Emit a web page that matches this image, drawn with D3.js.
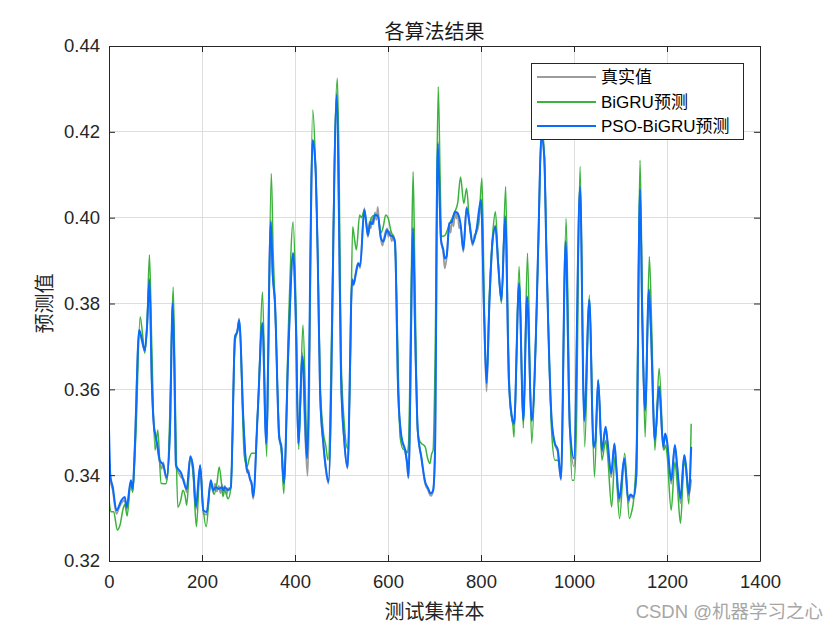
<!DOCTYPE html>
<html>
<head>
<meta charset="utf-8">
<script src="https://cdn.jsdelivr.net/npm/d3@7"></script>
<style>
  html, body { margin: 0; padding: 0; background: #fff; }
  svg { display: block; }
</style>
</head>
<body>
<svg id="chart" width="840" height="630"></svg>
<script>
// ---- Data (sample index, value) ----
const title = "各算法结果";
const xLabel = "测试集样本";
const yLabel = "预测值";
const seriesNames = ["真实值", "BiGRU预测", "PSO-BiGRU预测"];
const xTicks = [0, 200, 400, 600, 800, 1000, 1200, 1400];
const yTicks = [0.32, 0.34, 0.36, 0.38, 0.40, 0.42, 0.44];

const psoBigru = [
 [0,0.351],[3,0.3397],[8,0.3373],[16,0.3318],[27,0.3342],[34,0.3349],[38,0.3325],[47,0.3388],[51,0.3368],[55,0.345],
 [65,0.3738],[70,0.372],[77,0.3691],[82,0.375],[87,0.3855],[92,0.362],[97,0.351],[99,0.3498],[104,0.347],[109,0.3435],
 [117,0.3423],[124,0.3395],[131,0.350],[137,0.3801],[141,0.362],[144,0.3423],[155,0.3405],[167,0.3368],[175,0.3443],[181,0.3417],
 [187,0.3327],[196,0.3423],[203,0.3318],[210,0.3314],[219,0.3388],[224,0.3365],[230,0.3372],[236,0.3368],[243,0.3372],[246,0.3365],
 [249,0.3372],[256,0.3365],[262,0.3372],[271,0.3722],[276,0.3735],[280,0.3761],[289,0.3528],[293,0.345],[297,0.3412],[300,0.3405],
 [303,0.3392],[307,0.338],[310,0.3350],[320,0.355],[330,0.3754],[338,0.3474],[348,0.3990],[352,0.387],[357,0.3800],[366,0.3489],
 [371,0.3465],[376,0.3381],[386,0.370],[396,0.3917],[402,0.375],[407,0.3474],[416,0.3677],[426,0.3439],[438,0.4181],[444,0.4119],
 [449,0.390],[454,0.3590],[461,0.3474],[466,0.342],[472,0.3384],[490,0.4286],[494,0.405],[499,0.3629],[506,0.348],[513,0.3419],
 [523,0.3855],[526,0.3845],[531,0.387],[536,0.3893],[540,0.3887],[549,0.4018],[553,0.399],[557,0.3959],[562,0.399],[566,0.3985],
 [572,0.4006],[578,0.4005],[585,0.3952],[590,0.3945],[598,0.3971],[604,0.396],[611,0.3955],[615,0.3944],[622,0.3590],[629,0.3489],
 [637,0.3458],[641,0.343],[644,0.3396],[654,0.3975],[658,0.375],[664,0.3505],[672,0.344],[680,0.3384],[686,0.337],[692,0.3357],
 [697,0.3365],[701,0.345],[707,0.4173],[714,0.3948],[719,0.3925],[722,0.3905],[726,0.391],[732,0.3987],[737,0.399],[744,0.4014],
 [750,0.401],[756,0.3985],[762,0.3925],[769,0.4022],[775,0.399],[782,0.394],[790,0.397],[800,0.4041],[807,0.3761],[812,0.3614],
 [818,0.380],[825,0.3948],[831,0.3979],[837,0.389],[844,0.3808],[852,0.4002],[860,0.3621],[866,0.354],[871,0.3520],[882,0.3847],
 [891,0.3528],[899,0.3816],[909,0.3528],[918,0.3722],[923,0.3932],[930,0.4189],[936,0.4142],[941,0.3901],[952,0.3528],[959,0.3474],
 [965,0.346],[972,0.3392],[982,0.3944],[991,0.3513],[1000,0.3439],[1013,0.4072],[1022,0.3528],[1033,0.3808],[1042,0.3466],[1046,0.348],
 [1052,0.3621],[1060,0.3458],[1068,0.3513],[1072,0.348],[1080,0.3404],[1087,0.3474],[1091,0.342],[1097,0.3346],[1100,0.336],[1108,0.3439],
 [1117,0.3342],[1121,0.3355],[1128,0.335],[1134,0.340],[1142,0.4066],[1147,0.375],[1153,0.3552],[1161,0.3832],[1165,0.375],[1174,0.3482],
 [1183,0.3606],[1192,0.3466],[1196,0.3497],[1200,0.348],[1209,0.3388],[1217,0.347],[1222,0.342],[1229,0.3346],[1237,0.3447],[1240,0.343],
 [1247,0.3357],[1252,0.3466]
];

const bigru = [
 [0,0.3345],[4,0.3315],[10,0.3315],[18,0.3272],[24,0.3285],[30,0.332],[34,0.3332],[39,0.3305],[47,0.3385],[51,0.336],
 [58,0.350],[67,0.3769],[72,0.373],[77,0.3684],[82,0.376],[87,0.3913],[92,0.370],[99,0.3458],[105,0.3505],[112,0.3381],
 [117,0.338],[122,0.338],[126,0.340],[131,0.355],[138,0.3838],[143,0.355],[148,0.3325],[154,0.334],[159,0.3365],[164,0.335],
 [167,0.333],[175,0.344],[181,0.340],[188,0.3280],[196,0.3423],[202,0.333],[209,0.3280],[219,0.3385],[226,0.3355],[232,0.338],
 [237,0.3419],[242,0.338],[245,0.335],[249,0.3365],[256,0.3345],[262,0.337],[271,0.371],[276,0.3735],[280,0.3761],[291,0.3445],
 [297,0.3420],[302,0.344],[307,0.3451],[314,0.3451],[322,0.360],[330,0.3827],[339,0.3443],[349,0.4103],[353,0.392],[357,0.3800],
 [366,0.350],[371,0.345],[376,0.3357],[386,0.375],[396,0.3990],[402,0.38],[408,0.346],[417,0.3750],[427,0.3450],[438,0.4251],
 [444,0.4130],[449,0.392],[454,0.362],[461,0.350],[466,0.347],[471,0.3435],[491,0.4325],[495,0.41],[499,0.368],[506,0.352],
 [513,0.3462],[519,0.365],[524,0.3979],[528,0.395],[532,0.3925],[539,0.4006],[543,0.400],[549,0.4018],[557,0.3965],[564,0.400],
 [572,0.4006],[578,0.4005],[585,0.3965],[590,0.398],[595,0.4006],[600,0.400],[606,0.397],[615,0.394],[620,0.375],[626,0.3489],
 [633,0.346],[637,0.346],[641,0.3452],[644,0.347],[650,0.385],[654,0.4107],[658,0.385],[664,0.350],[668,0.348],[672,0.3474],
 [680,0.3466],[685,0.344],[690,0.3427],[694,0.345],[697,0.3458],[701,0.365],[708,0.4305],[712,0.410],[715,0.3956],[722,0.3958],
 [732,0.3985],[744,0.4014],[750,0.4035],[756,0.4095],[763,0.4033],[769,0.4068],[775,0.399],[782,0.394],[790,0.397],[796,0.400],
 [802,0.4092],[807,0.380],[812,0.3614],[818,0.382],[825,0.3960],[831,0.4014],[837,0.390],[844,0.3800],[853,0.4072],[858,0.375],
 [863,0.356],[869,0.3513],[871,0.3489],[882,0.3886],[891,0.351],[900,0.3917],[909,0.3474],[918,0.372],[923,0.392],[931,0.421],
 [936,0.415],[941,0.392],[952,0.350],[959,0.3435],[965,0.3435],[972,0.3410],[983,0.3998],[991,0.352],[996,0.3388],[1000,0.3388],
 [1005,0.350],[1013,0.4119],[1023,0.3466],[1033,0.3820],[1044,0.3396],[1052,0.3621],[1060,0.3435],[1068,0.3480],[1072,0.345],[1081,0.3326],
 [1088,0.3443],[1098,0.3299],[1109,0.3451],[1119,0.3299],[1124,0.3315],[1128,0.334],[1134,0.345],[1142,0.4134],[1147,0.38],[1153,0.3489],
 [1162,0.3909],[1167,0.375],[1174,0.3458],[1183,0.3649],[1193,0.3458],[1197,0.347],[1200,0.345],[1209,0.3318],[1217,0.3431],[1222,0.338],
 [1229,0.3288],[1237,0.343],[1240,0.342],[1247,0.3333],[1252,0.3520]
];

const trueValues = [
 [0,0.346],[3,0.339],[8,0.3365],[16,0.331],[22,0.3325],[27,0.3335],[34,0.3342],[38,0.332],[47,0.3382],[51,0.3362],[55,0.345],
 [65,0.3735],[70,0.3715],[77,0.3688],[82,0.375],[87,0.3858],[92,0.362],[97,0.351],[99,0.3495],[104,0.3465],[109,0.343],
 [113,0.3415],[117,0.343],[120,0.3405],[124,0.339],[131,0.350],[137,0.3805],[141,0.362],[144,0.342],[150,0.3405],[155,0.3395],
 [161,0.339],[167,0.336],[175,0.3445],[181,0.341],[187,0.332],[196,0.342],[203,0.331],[210,0.3308],[219,0.3385],[224,0.336],
 [228,0.338],[232,0.3362],[236,0.3375],[240,0.3358],[243,0.3378],[246,0.336],[249,0.3375],[253,0.3355],[256,0.337],[262,0.3368],
 [271,0.3725],[276,0.3735],[280,0.3765],[289,0.3525],[293,0.3445],[297,0.3405],[300,0.3412],[303,0.339],[307,0.3375],[310,0.3345],
 [320,0.355],[330,0.3755],[338,0.347],[348,0.3995],[352,0.387],[357,0.3798],[366,0.3485],[371,0.346],[376,0.3378],[386,0.370],
 [396,0.3918],[402,0.375],[407,0.347],[416,0.3685],[421,0.352],[427,0.3398],[438,0.418],[444,0.412],[449,0.390],[454,0.3588],
 [461,0.347],[466,0.3415],[472,0.338],[490,0.4292],[494,0.405],[499,0.3625],[506,0.3478],[513,0.3415],[523,0.3858],[526,0.3842],
 [531,0.3875],[536,0.3895],[540,0.3882],[549,0.4022],[553,0.3985],[557,0.3955],[560,0.399],[563,0.3975],[566,0.4],[569,0.3985],
 [572,0.4012],[575,0.3995],[578,0.4025],[581,0.3985],[585,0.3948],[588,0.3935],[592,0.3955],[598,0.3975],[601,0.3955],[604,0.3968],
 [608,0.3945],[611,0.396],[615,0.394],[622,0.3588],[629,0.3485],[637,0.3455],[641,0.3425],[644,0.3392],[654,0.3978],[658,0.375],
 [664,0.3502],[672,0.3438],[680,0.338],[686,0.3365],[692,0.3352],[697,0.3362],[701,0.345],[707,0.4178],[714,0.3945],[719,0.3918],
 [722,0.3882],[726,0.3905],[732,0.3982],[735,0.3965],[737,0.3995],[741,0.398],[744,0.4015],[747,0.3998],[750,0.4012],[753,0.3975],
 [756,0.3982],[762,0.392],[769,0.4025],[775,0.3985],[782,0.3935],[786,0.396],[790,0.3965],[795,0.3985],[800,0.4045],[807,0.3758],
 [812,0.3595],[818,0.380],[825,0.3945],[831,0.3982],[837,0.389],[844,0.3805],[852,0.4005],[860,0.3618],[866,0.3535],[871,0.3515],
 [882,0.3848],[891,0.3525],[899,0.3818],[909,0.3525],[918,0.3722],[923,0.3932],[930,0.4195],[936,0.4145],[941,0.390],[952,0.3525],
 [959,0.347],[965,0.3455],[972,0.3388],[982,0.3948],[991,0.3508],[1000,0.342],[1013,0.4075],[1022,0.3525],[1033,0.381],[1042,0.3462],
 [1046,0.3478],[1052,0.3622],[1060,0.3452],[1068,0.351],[1072,0.3475],[1080,0.3395],[1087,0.3472],[1091,0.3415],[1097,0.3338],[1100,0.3355],
 [1108,0.3438],[1117,0.3335],[1121,0.3352],[1128,0.3345],[1134,0.340],[1142,0.4068],[1147,0.375],[1153,0.3548],[1161,0.3835],[1165,0.375],
 [1174,0.3478],[1183,0.3608],[1192,0.346],[1196,0.3495],[1200,0.3475],[1209,0.338],[1217,0.3468],[1222,0.3415],[1229,0.3335],[1237,0.3445],
 [1240,0.3425],[1247,0.3352],[1252,0.339]
];

const seriesData = [trueValues, bigru, psoBigru];
const seriesColors = ["#9c9c9c", "#3bb23b", "#0a6bff"];
const seriesWidths = [1.8, 1.5, 2.0];

// ---- Layout ----
const svg = d3.select("#chart");
const pLeft = 109, pRight = 760, pTop = 46, pBottom = 561;
const x = d3.scaleLinear().domain([0, 1400]).range([pLeft, pRight]);
const y = d3.scaleLinear().domain([0.32, 0.44]).range([pBottom, pTop]);

const axisColor = "#262626";
const latin = "'Liberation Sans', Arial, Helvetica, sans-serif";
const cjk = "'Liberation Sans', 'Noto Sans CJK SC', sans-serif";

// grid
const grid = svg.append("g");
grid.selectAll("line.gx").data(xTicks.slice(1, -1)).join("line")
  .attr("x1", d => x(d)).attr("x2", d => x(d))
  .attr("y1", pTop).attr("y2", pBottom)
  .attr("stroke", "#dedede").attr("stroke-width", 1).attr("shape-rendering", "crispEdges");
grid.selectAll("line.gy").data(yTicks.slice(1, -1)).join("line")
  .attr("x1", pLeft).attr("x2", pRight)
  .attr("y1", d => y(d)).attr("y2", d => y(d))
  .attr("stroke", "#dedede").attr("stroke-width", 1).attr("shape-rendering", "crispEdges");

// series
const clipId = "plotclip";
svg.append("clipPath").attr("id", clipId).append("rect")
  .attr("x", pLeft).attr("y", pTop).attr("width", pRight - pLeft).attr("height", pBottom - pTop);

const line = d3.line().x(d => x(d[0])).y(d => y(d[1])).curve(d3.curveMonotoneX);
const plot = svg.append("g").attr("clip-path", `url(#${clipId})`);
seriesData.forEach((s, i) => {
  plot.append("path").datum(s)
    .attr("d", line)
    .attr("fill", "none")
    .attr("stroke", seriesColors[i])
    .attr("stroke-width", seriesWidths[i])
    .attr("stroke-linejoin", "round");
});

// axes (MATLAB box style, ticks inside)
const tickLen = 6;
const xAxisB = d3.axisBottom(x).tickValues(xTicks).tickSizeInner(-tickLen).tickSizeOuter(0).tickPadding(14).tickFormat(d3.format("d"));
const xAxisT = d3.axisTop(x).tickValues(xTicks).tickSizeInner(-tickLen).tickSizeOuter(0).tickFormat("");
const yAxisL = d3.axisLeft(y).tickValues(yTicks).tickSizeInner(-tickLen).tickSizeOuter(0).tickPadding(9).tickFormat(d3.format(".2f"));
const yAxisR = d3.axisRight(y).tickValues(yTicks).tickSizeInner(-tickLen).tickSizeOuter(0).tickFormat("");

function styleAxis(g) {
  g.selectAll("path").attr("stroke", axisColor).attr("stroke-width", 1);
  g.selectAll("line").attr("stroke", axisColor).attr("stroke-width", 1);
  g.selectAll("text").attr("fill", "#262626").style("font-family", latin).style("font-size", "18.5px");
}
svg.append("g").attr("transform", `translate(0,${pBottom})`).call(xAxisB).call(styleAxis);
svg.append("g").attr("transform", `translate(0,${pTop})`).call(xAxisT).call(styleAxis);
svg.append("g").attr("transform", `translate(${pLeft},0)`).call(yAxisL).call(styleAxis);
svg.append("g").attr("transform", `translate(${pRight},0)`).call(yAxisR).call(styleAxis);

// titles
svg.append("text").attr("x", (pLeft + pRight) / 2).attr("y", 39)
  .attr("text-anchor", "middle").style("font-family", cjk).style("font-size", "20px").attr("fill", "#1a1a1a")
  .text(title);
svg.append("text").attr("x", (pLeft + pRight) / 2).attr("y", 619)
  .attr("text-anchor", "middle").style("font-family", cjk).style("font-size", "20px").attr("fill", "#262626")
  .text(xLabel);
svg.append("text").attr("transform", `translate(52,${(pTop + pBottom) / 2}) rotate(-90)`)
  .attr("text-anchor", "middle").style("font-family", cjk).style("font-size", "20px").attr("fill", "#262626")
  .text(yLabel);

// legend
const lg = svg.append("g");
lg.append("rect").attr("x", 531.5).attr("y", 63.5).attr("width", 212).attr("height", 76)
  .attr("fill", "#fff").attr("stroke", axisColor).attr("stroke-width", 1);
const lgY = [77, 102, 126];
seriesNames.forEach((n, i) => {
  lg.append("line").attr("x1", 537).attr("x2", 596).attr("y1", lgY[i]).attr("y2", lgY[i])
    .attr("stroke", seriesColors[i]).attr("stroke-width", 2);
  lg.append("text").attr("x", 601).attr("y", lgY[i] + 5.5)
    .style("font-family", cjk).style("font-size", "17px").attr("fill", "#000")
    .text(n);
});

// watermark
svg.append("text").attr("x", 823).attr("y", 618).attr("text-anchor", "end")
  .style("font-family", cjk).style("font-size", "18.5px").attr("fill", "#a6a6a6")
  .text("CSDN @机器学习之心");
</script>
</body>
</html>
